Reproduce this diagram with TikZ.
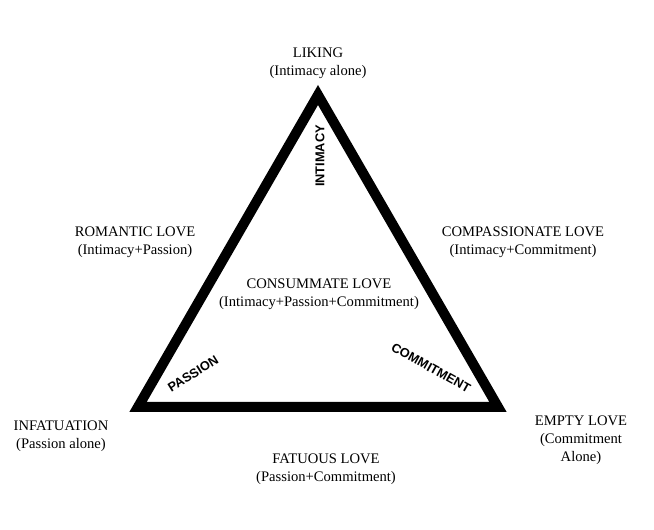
\documentclass[tikz,border=0pt]{standalone}
\usepackage{fontspec}
\setmainfont{Liberation Serif}
\newfontfamily\sidefont{Liberation Sans}
\begin{document}
\begin{tikzpicture}[x=0.75pt,y=0.75pt,yscale=-1,xscale=1,
	lovelabel/.style={align=center,inner sep=0.75pt,font=\fontsize{10.95}{13.5}\selectfont},
	sidelabel/.style={inner sep=0.75pt,font=\sidefont\bfseries\fontsize{9.6}{11}\selectfont}]
	%set diagram size 654 x 530
	\path (0,0) rectangle (654,530);
	
	%Shape: Triangle
	\coordinate (apex) at (318,95);
	\coordinate (leftc) at (138,407);
	\coordinate (rightc) at (498,407);
	\draw [line width=7.5pt, line join=miter] (apex) -- (leftc) -- (rightc) -- cycle ;
	
	% Side labels
	\draw (320,156) node [sidelabel, rotate=90] (intimacy) {INTIMACY};
	\draw (193,374) node [sidelabel, rotate=32] (passion) {PASSION};
	\draw (431,368) node [sidelabel, rotate=-29] (commitment) {COMMITMENT};
	
	% Text Node
	\draw (318,63) node [lovelabel] (liking) {LIKING\\(Intimacy alone)};
	% Text Node
	\draw (135,242) node [lovelabel] (romantic) {ROMANTIC LOVE\\(Intimacy+Passion)};
	% Text Node
	\draw (523,242) node [lovelabel] (compassionate) {COMPASSIONATE LOVE\\(Intimacy+Commitment)};
	% Text Node
	\draw (319,294) node [lovelabel] (consummate) {CONSUMMATE LOVE\\(Intimacy+Passion+Commitment)};
	% Text Node
	\draw (61,436) node [lovelabel] (infatuation) {INFATUATION\\(Passion alone)};
	% Text Node
	\draw (581,440) node [lovelabel] (empty) {EMPTY LOVE\\(Commitment\\Alone)};
	% Text Node
	\draw (326,469) node [lovelabel] (fatuous) {FATUOUS LOVE\\(Passion+Commitment)};
\end{tikzpicture}
\end{document}
